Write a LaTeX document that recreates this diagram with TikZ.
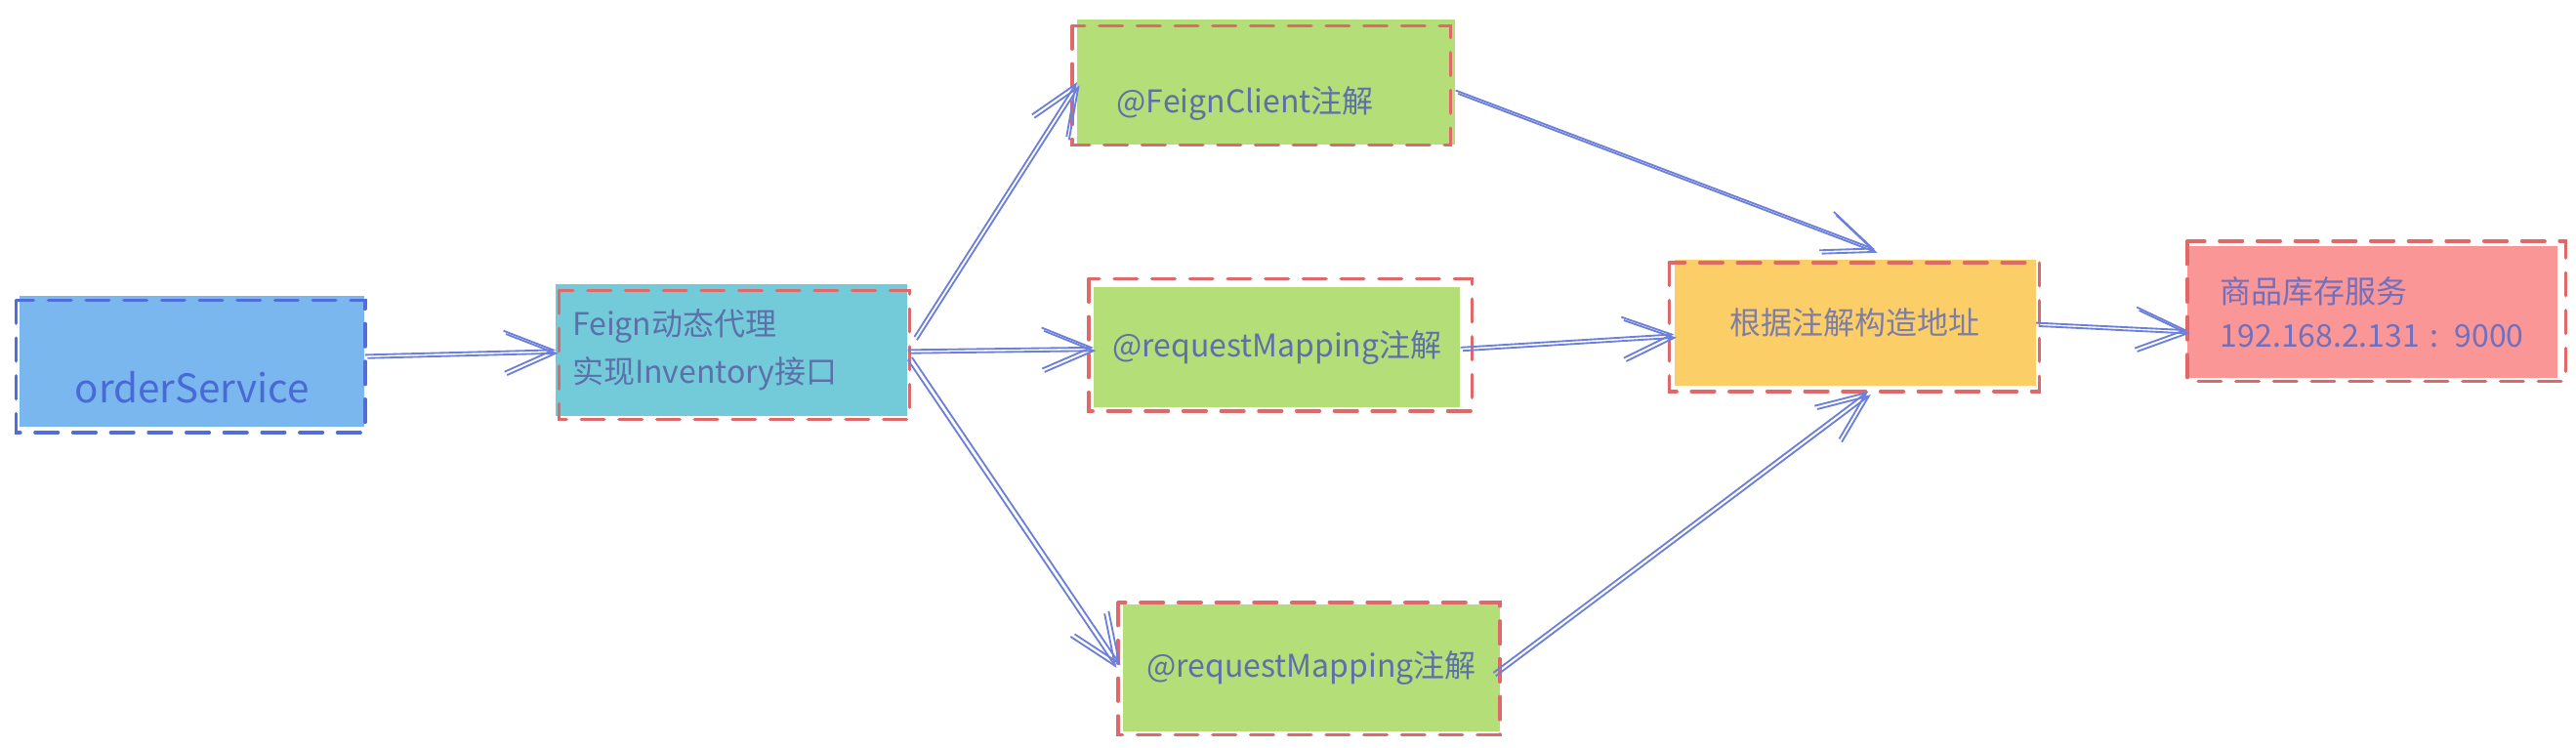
\documentclass[tikz,border=0pt]{standalone}
\usepackage{fontspec}
\setmainfont{Noto Sans CJK SC}
\usetikzlibrary{arrows.meta, positioning}

\definecolor{blueF}{RGB}{122,183,239}
\definecolor{cyanF}{RGB}{115,203,218}
\definecolor{greenF}{RGB}{180,222,120}
\definecolor{orangeF}{RGB}{251,206,104}
\definecolor{pinkF}{RGB}{250,150,150}
\definecolor{redR}{RGB}{224,104,104}
\definecolor{blueR}{RGB}{80,110,215}
\definecolor{lineC}{RGB}{108,128,218}
\definecolor{txtC}{RGB}{92,112,170}
\definecolor{orderC}{RGB}{72,106,214}
\definecolor{addrC}{RGB}{125,125,165}
\definecolor{svcC}{RGB}{112,112,190}

\begin{document}
\begin{tikzpicture}[
      x=1pt, y=1pt,
      box/.style={rectangle, inner xsep=0pt, inner ysep=0pt, text=txtC, align=center},
      rim/.style={line width=2.1pt, dash pattern=on 14pt off 9pt, line cap=round},
      conn/.style={draw=lineC, line width=1.1pt, -{Straight Barb[length=30pt, width=25pt]},
                   postaction={draw=lineC, transform canvas={shift={#1}}}},
      conn/.default={(1.5,-2)},
      every node/.style={font=\fontsize{19}{29}\selectfont}
    ]
    \useasboundingbox (0,0) rectangle (1568,-455.3);

    \node[box, fill=blueF, minimum width=210pt, minimum height=80pt, text=orderC,
          font=\fontsize{24}{28}\selectfont, text height=50pt, text depth=0pt] (order) at (117,-220) {orderService};
    \node[box, fill=cyanF, right=116pt of order, yshift=7pt, minimum height=80pt,
          text width=194pt, inner xsep=10pt, align=left] (feign) {Feign动态代理\\实现Inventory接口};
    \node[box, fill=greenF, right=103pt of feign, yshift=163pt, minimum height=76pt,
          text width=182pt, inner xsep=24pt, align=left, text height=37pt, text depth=0pt] (fc) {@FeignClient注解};
    \node[box, fill=greenF, right=113pt of feign, yshift=1.5pt, minimum width=223pt, minimum height=73pt] (rm1) {@requestMapping注解};
    \node[box, fill=greenF, right=131pt of feign, yshift=-193.5pt, minimum width=229pt, minimum height=77pt] (rm2) {@requestMapping注解};
    \node[box, fill=orangeF, right=130pt of rm1, yshift=15pt, minimum width=220pt, minimum height=77pt,
          text=addrC] (addr) {根据注解构造地址};
    \node[box, fill=pinkF, right=92pt of addr, yshift=6.5pt, minimum height=80pt,
          text width=185pt, inner xsep=20pt, align=left, text=svcC, font=\fontsize{19}{27}\selectfont] (svc) {商品库存服务\\192.168.2.131 : 9000};

    % sketchy dashed outlines
    \foreach \n/\a/\b/\c/\d/\col in {order/-2/-3/0/-3/blueR, feign/2/-4/1/-2/redR, fc/-3/-4/-3/0/redR,
        rm1/-3/5/7/-2/redR, rm2/-3/1/0/-2/redR, addr/-3/-2/2/-3/redR, svc/0/3/5/-2/redR}
      \draw[rim, draw=\col] ([shift={(\a,\b)}]\n.north west) rectangle ([shift={(\c,\d)}]\n.south east);

    \draw[conn] ([yshift=4pt]order.east) -- (feign.west);
    \draw[conn] ([shift={(4pt,8pt)}]feign.east) -- (fc.west);
    \draw[conn] (feign.east) -- (rm1.west);
    \draw[conn={(2.5,1.5)}] ([yshift=-6pt]feign.east) -- ([xshift=-4pt]rm2.west);
    \draw[conn] ([yshift=-5pt]fc.east) -- ([shift={(12pt,6pt)}]addr.north);
    \draw[conn] (rm1.east) -- ([yshift=-7pt]addr.west);
    \draw[conn] ([shift={(-4pt,-3pt)}]rm2.east) -- ([shift={(8pt,-3pt)}]addr.south);
    \draw[conn] (addr.east) -- ([yshift=-11pt]svc.west);
\end{tikzpicture}
\end{document}
